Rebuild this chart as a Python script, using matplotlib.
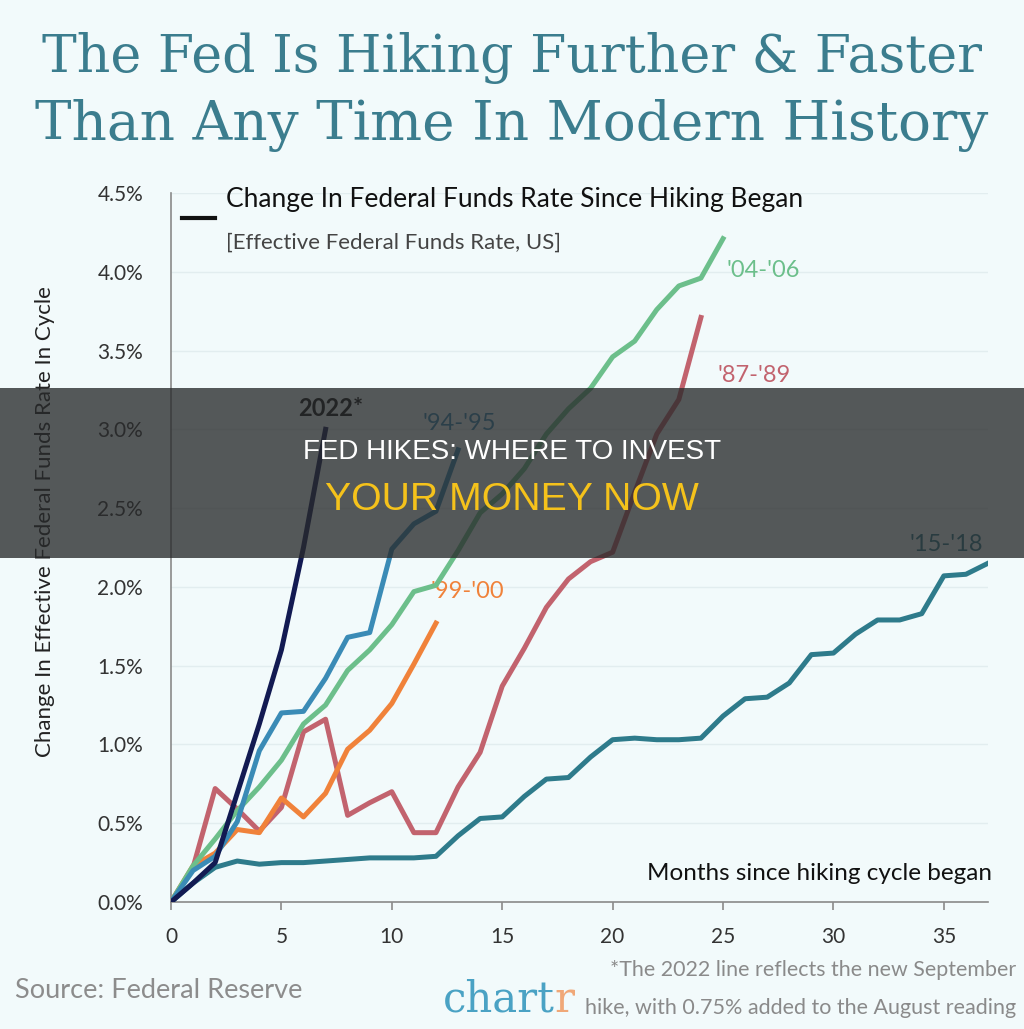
import matplotlib.pyplot as plt
from matplotlib.patches import Rectangle

# Change in effective fed funds rate (percentage points) by month since the first hike
y2022 = [0, 0.12, 0.25, 0.69, 1.13, 1.60, 2.25, 3.00]
y9495 = [0, 0.20, 0.29, 0.51, 0.96, 1.20, 1.21, 1.42, 1.68, 1.71, 2.24, 2.40, 2.48, 2.87]
y0406 = [0, 0.23, 0.40, 0.58, 0.73, 0.90, 1.13, 1.25, 1.47, 1.60, 1.76, 1.97, 2.01,
         2.23, 2.47, 2.59, 2.75, 2.97, 3.13, 3.26, 3.46, 3.56, 3.76, 3.91, 3.96, 4.21]
y8789 = [0, 0.22, 0.72, 0.59, 0.45, 0.60, 1.08, 1.16, 0.55, 0.63, 0.70, 0.44, 0.44,
         0.73, 0.95, 1.37, 1.61, 1.87, 2.05, 2.16, 2.22, 2.60, 2.97, 3.19, 3.71]
y9900 = [0, 0.23, 0.31, 0.46, 0.44, 0.66, 0.54, 0.69, 0.97, 1.09, 1.26, 1.51, 1.77]
y1518 = [0, 0.12, 0.22, 0.26, 0.24, 0.25, 0.25, 0.26, 0.27, 0.28, 0.28, 0.28, 0.29,
         0.42, 0.53, 0.54, 0.67, 0.78, 0.79, 0.92, 1.03, 1.04, 1.03, 1.03, 1.04, 1.18,
         1.29, 1.30, 1.39, 1.57, 1.58, 1.70, 1.79, 1.79, 1.83, 2.07, 2.08, 2.15]

yticks = [0, 0.5, 1.0, 1.5, 2.0, 2.5, 3.0, 3.5, 4.0, 4.5]
xticks = [0, 5, 10, 15, 20, 25, 30, 35]

bg = '#f2fafb'
teal = '#2e7b8b'
rose = '#c2636e'
orange = '#f0823a'
green = '#6cbf8b'
blue = '#3a8bb6'
navy = '#121a52'

fig = plt.figure(figsize=(10.24, 10.29), dpi=100, facecolor=bg)
ax = fig.add_axes([171 / 1024, 1 - 902 / 1029, 817 / 1024, 709 / 1029])
ax.set_facecolor(bg)

lw = 3.6
ax.plot(range(len(y1518)), y1518, color=teal, lw=lw, zorder=3)
ax.plot(range(len(y8789)), y8789, color=rose, lw=lw, zorder=4)
ax.plot(range(len(y9900)), y9900, color=orange, lw=lw, zorder=5)
ax.plot(range(len(y0406)), y0406, color=green, lw=lw, zorder=6)
ax.plot(range(len(y9495)), y9495, color=blue, lw=lw, zorder=7)
ax.plot(range(len(y2022)), y2022, color=navy, lw=lw, zorder=8)

lab = dict(fontfamily='Lato', fontsize=17, ha='center', va='center')
ax.text(7.25, 3.13, '2022*', color='#111111', fontweight='bold', **lab)
ax.text(13.05, 3.04, "'94-'95", color=blue, **lab)
ax.text(26.8, 4.01, "'04-'06", color=green, **lab)
ax.text(26.4, 3.34, "'87-'89", color=rose, **lab)
ax.text(13.4, 1.97, "'99-'00", color=orange, **lab)
ax.text(35.1, 2.27, "'15-'18", color=teal, **lab)

ax.set_xlim(0, 37)
ax.set_ylim(0, 4.5)
ax.set_xticks(xticks)
ax.set_yticks(yticks)
ax.set_yticklabels([f'{v:.1f}%' for v in yticks])
ax.tick_params(axis='y', length=0, pad=20, labelsize=15, labelcolor='#333333')
ax.tick_params(axis='x', length=6, width=1.2, color='#8a8a8a', pad=12,
               labelsize=15, labelcolor='#333333')
for t in ax.get_xticklabels() + ax.get_yticklabels():
    t.set_fontfamily('Lato')
ax.grid(axis='y', color='#e2edef', lw=1)
ax.set_axisbelow(True)
for s in ['top', 'right']:
    ax.spines[s].set_visible(False)
for s in ['left', 'bottom']:
    ax.spines[s].set_color('#8a8a8a')
    ax.spines[s].set_linewidth(1.2)

ax.text(1.005, 0.04, 'Months since hiking cycle began', transform=ax.transAxes,
        ha='right', va='center', fontsize=17.5, fontfamily='Lato', color='#111111')

# titles and notes
title_kw = dict(ha='center', va='center', fontfamily='DejaVu Serif', color='#3b7d8e')
fig.text(0.5, 1 - 58 / 1029, 'The Fed Is Hiking Further & Faster', fontsize=37.5, **title_kw)
fig.text(0.5, 1 - 125 / 1029, 'Than Any Time In Modern History', fontsize=39.5, **title_kw)
fig.add_artist(plt.Line2D([182 / 1024, 215 / 1024], [1 - 218 / 1029] * 2,
                          color='#111111', lw=3))
fig.text(226 / 1024, 1 - 200 / 1029, 'Change In Federal Funds Rate Since Hiking Began',
         ha='left', va='center', fontfamily='Lato', fontsize=19, color='#111111')
fig.text(226 / 1024, 1 - 243 / 1029, '[Effective Federal Funds Rate, US]',
         ha='left', va='center', fontfamily='Lato', fontsize=16, color='#444444')
fig.text(45 / 1024, 1 - 522 / 1029, 'Change In Effective Federal Funds Rate In Cycle',
         rotation=90, ha='center', va='center', fontfamily='Lato', fontsize=16,
         color='#222222')
fig.text(15 / 1024, 1 - 990 / 1029, 'Source: Federal Reserve', ha='left', va='center',
         fontfamily='Lato', fontsize=19.5, color='#8c8c8c')
fig.text(1016 / 1024, 1 - 970 / 1029, '*The 2022 line reflects the new September',
         ha='right', va='center', fontfamily='Lato', fontsize=15.4, color='#8a8a8a')
fig.text(1016 / 1024, 1 - 1008 / 1029, 'hike, with 0.75% added to the August reading',
         ha='right', va='center', fontfamily='Lato', fontsize=15.5, color='#8a8a8a')
logo = fig.text(443 / 1024, 1 - 1012 / 1029, 'chart', ha='left', va='baseline',
                fontfamily='DejaVu Serif', fontsize=30, color='#4aa2c4')
fig.canvas.draw()
bb = logo.get_window_extent()
fig.text(bb.x1 / 1024, 1 - 1012 / 1029, 'r', ha='left', va='baseline',
         fontfamily='DejaVu Serif', fontsize=30, color='#f0a878')

# dark banner across the middle
fig.add_artist(Rectangle((0, 1 - 558 / 1029), 1, 170 / 1029, transform=fig.transFigure,
                         facecolor='#282a2b', alpha=0.78, edgecolor='none', zorder=20))
fig.text(0.5, 1 - 452 / 1029, 'FED HIKES: WHERE TO INVEST', ha='center', va='center',
         fontfamily='Liberation Sans', fontsize=20, color='white', zorder=21)
fig.text(0.5, 1 - 500 / 1029, 'YOUR MONEY NOW', ha='center', va='center',
         fontfamily='Liberation Sans', fontsize=28.2, color='#f5c21b', zorder=21)

fig.savefig('out.png', dpi=100, facecolor=bg)
